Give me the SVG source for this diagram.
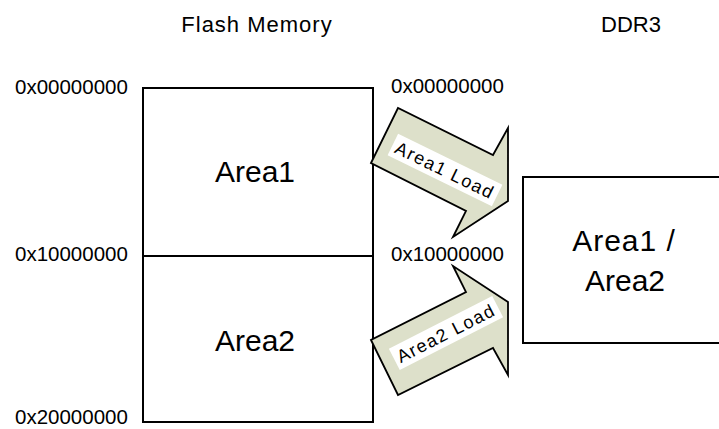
<svg xmlns="http://www.w3.org/2000/svg" width="719" height="429" viewBox="0 0 719 429">
  <style>
    text { font-family: "Liberation Sans", Arial, "Noto Sans CJK JP", sans-serif; fill: #000; }
    .box { fill: #fff; stroke: #000; stroke-width: 2; }
    .addr { font-size: 20.5px; }
    .title { font-size: 22px; text-anchor: middle; }
    .area { font-size: 30px; text-anchor: middle; }
    .load { fill: #dde0ca; stroke: #000; stroke-width: 1.8; stroke-linejoin: miter; }
    .tag-bg { fill: #fff; }
    .tag { font-size: 18px; text-anchor: middle; letter-spacing: 1.5px; }
  </style>

  <!-- column titles -->
  <text class="title" x="257" y="32" style="letter-spacing:1px">Flash Memory</text>
  <text class="title" x="631" y="32">DDR3</text>

  <!-- flash memory map -->
  <g id="flash">
    <rect class="box" x="143" y="88" width="230" height="334"/>
    <line x1="143" y1="256" x2="373" y2="256" stroke="#000" stroke-width="2"/>
    <text class="area" x="255" y="182">Area1</text>
    <text class="area" x="255" y="351">Area2</text>
  </g>

  <!-- flash addresses -->
  <g id="flash-addresses">
    <text class="addr" x="15" y="94">0x00000000</text>
    <text class="addr" x="15" y="261">0x10000000</text>
    <text class="addr" x="15" y="424">0x20000000</text>
  </g>

  <!-- load addresses -->
  <g id="load-addresses">
    <text class="addr" x="391" y="93">0x00000000</text>
    <text class="addr" x="391" y="261">0x10000000</text>
  </g>

  <!-- DDR3 target -->
  <g id="ddr3">
    <rect class="box" x="523" y="177" width="210" height="166"/>
    <text class="area" x="624" y="251" style="letter-spacing:1px">Area1 /</text>
    <text class="area" x="625" y="291">Area2</text>
  </g>

  <!-- load arrows -->
  <g id="connectors">
    <g id="area1-load">
      <polygon class="load" points="371,163 398,108 493,155 508,128 508,201 453,237 466,211"/>
      <g transform="translate(445,170) rotate(26)">
        <rect class="tag-bg" x="-58" y="-12" width="116" height="24"/>
        <text class="tag" x="0" y="6.5">Area1 Load</text>
      </g>
    </g>
    <g id="area2-load">
      <polygon class="load" points="371,340 398,395 493,348 508,375 508,302 453,266 466,292"/>
      <g transform="translate(446,333) rotate(-27)">
        <rect class="tag-bg" x="-58" y="-12" width="116" height="24"/>
        <text class="tag" x="0" y="6.5">Area2 Load</text>
      </g>
    </g>
  </g>
</svg>
